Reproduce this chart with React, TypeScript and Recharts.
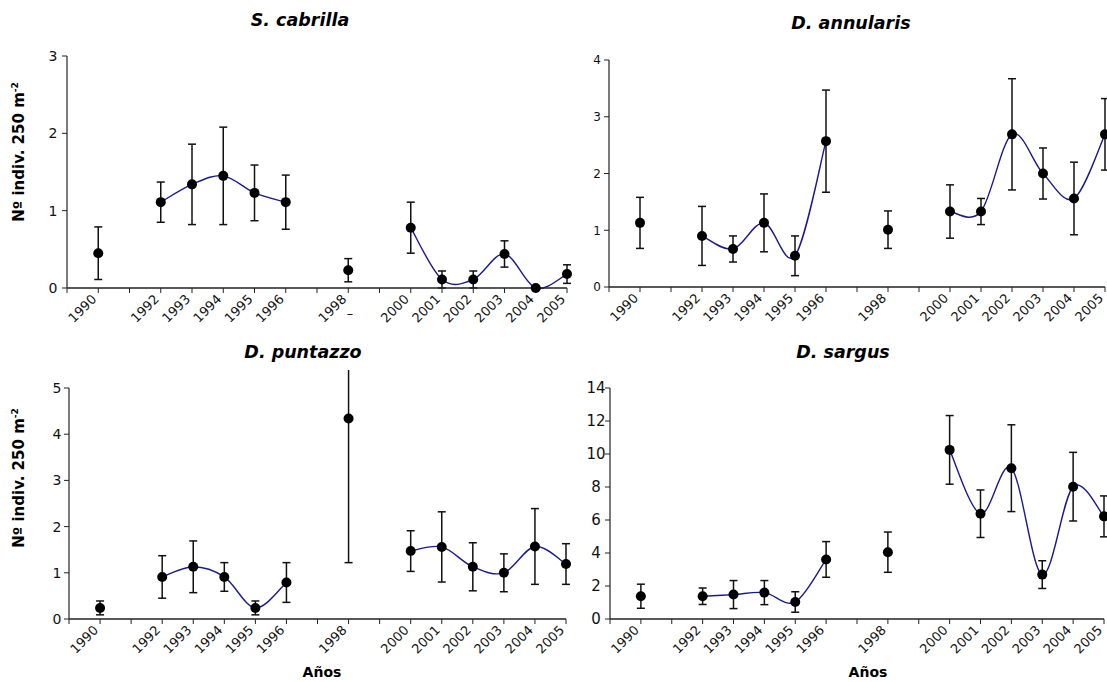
import React from 'react';
import { ComposedChart, Line, Scatter, XAxis, YAxis, ErrorBar } from 'recharts';

// años de muestreo (1991, 1997 y 1999 sin datos)
const YEARS = [1990, 1991, 1992, 1993, 1994, 1995, 1996, 1997, 1998, 1999, 2000, 2001, 2002, 2003, 2004, 2005];
const YEAR_TICKS = [1989, 1990, 1991, 1992, 1993, 1994, 1995, 1996, 1997, 1998, 1999, 2000, 2001, 2002, 2003, 2004, 2005];
const LABELED_YEARS = [1990, 1992, 1993, 1994, 1995, 1996, 1998, 2000, 2001, 2002, 2003, 2004, 2005];

const CABRILLA_MEAN = [0.45, null, 1.11, 1.34, 1.45, 1.23, 1.11, null, 0.23, null, 0.78, 0.11, 0.11, 0.44, 0.0, 0.18];
const CABRILLA_ERR = [0.34, null, 0.26, 0.52, 0.63, 0.36, 0.35, null, 0.15, null, 0.33, 0.11, 0.11, 0.17, 0, 0.12];

const ANNULARIS_MEAN = [1.13, null, 0.9, 0.67, 1.13, 0.55, 2.57, null, 1.01, null, 1.33, 1.33, 2.69, 2.0, 1.56, 2.69];
const ANNULARIS_ERR = [0.45, null, 0.52, 0.23, 0.51, 0.35, 0.9, null, 0.33, null, 0.47, 0.23, 0.98, 0.45, 0.64, 0.63];

const PUNTAZZO_MEAN = [0.24, null, 0.91, 1.13, 0.91, 0.24, 0.79, null, 4.34, null, 1.47, 1.56, 1.13, 1.0, 1.57, 1.19];
const PUNTAZZO_ERR = [0.15, null, 0.46, 0.56, 0.31, 0.15, 0.43, null, 3.12, null, 0.44, 0.76, 0.52, 0.41, 0.82, 0.44];

const SARGUS_MEAN = [1.38, null, 1.38, 1.48, 1.6, 1.03, 3.61, null, 4.05, null, 10.25, 6.38, 9.14, 2.69, 8.02, 6.22];
const SARGUS_ERR = [0.73, null, 0.5, 0.85, 0.73, 0.62, 1.08, null, 1.22, null, 2.08, 1.44, 2.63, 0.84, 2.08, 1.24];

const FONT = '"DejaVu Sans", Verdana, sans-serif';
const LINE_COLOR = '#1a1a8e';
const AXIS_COLOR = '#222';

// curva suavizada tipo Excel (Catmull-Rom en Bezier)
const excelSmooth: any = (context: any) => {
  let pts: number[][] = [];
  return {
    areaStart() {},
    areaEnd() {},
    lineStart() {
      pts = [];
    },
    point(x: number, y: number) {
      pts.push([+x, +y]);
    },
    lineEnd() {
      if (!pts.length) return;
      context.moveTo(pts[0][0], pts[0][1]);
      for (let i = 0; i < pts.length - 1; i++) {
        const p0 = pts[i - 1] || pts[i];
        const p1 = pts[i];
        const p2 = pts[i + 1];
        const p3 = pts[i + 2] || p2;
        context.bezierCurveTo(
          p1[0] + (p2[0] - p0[0]) / 6,
          p1[1] + (p2[1] - p0[1]) / 6,
          p2[0] - (p3[0] - p1[0]) / 6,
          p2[1] - (p3[1] - p1[1]) / 6,
          p2[0],
          p2[1]
        );
      }
    },
  };
};

const YearTick = (props: any) => {
  const { x, y, payload } = props;
  if (!LABELED_YEARS.includes(payload.value)) return <g />;
  const ax = x - 1;
  const ay = y + 5;
  return (
    <text
      x={ax}
      y={ay}
      transform={`rotate(-45 ${ax} ${ay})`}
      textAnchor="end"
      fontSize={13}
      fontFamily={FONT}
      fill="#111"
    >
      {payload.value}
    </text>
  );
};

const ValueTick = (props: any) => {
  const { x, y, payload, shift, fs } = props;
  return (
    <text x={x + shift} y={y} dy="0.36em" textAnchor="middle" fontSize={fs} fontFamily={FONT} fill="#111">
      {payload.value}
    </text>
  );
};

const Dot = (props: any) => <circle cx={props.cx} cy={props.cy} r={5} fill="#000" />;

type Box = { left: number; top: number; width: number; height: number; mt: number; mr: number; yw: number; xh: number };

const Panel = ({ mean, err, yMax, yTicks, box, yFont, yShift, clip }: {
  mean: (number | null)[];
  err: (number | null)[];
  yMax: number;
  yTicks: number[];
  box: Box;
  yFont: number;
  yShift: number;
  clip?: boolean;
}) => {
  const rows = YEARS.map((year, i) => ({ year, v: mean[i], err: err[i] }));
  const points = rows.filter(r => r.v !== null);
  return (
    <div style={{ position: 'absolute', left: box.left, top: box.top }}>
      <ComposedChart
        width={box.width}
        height={box.height}
        data={rows}
        margin={{ top: box.mt, right: box.mr, bottom: 0, left: 0 }}
      >
        <XAxis
          type="number"
          dataKey="year"
          domain={[1989, 2005]}
          ticks={YEAR_TICKS}
          interval={0}
          height={box.xh}
          tick={<YearTick />}
          tickSize={5}
          tickLine={{ stroke: AXIS_COLOR }}
          axisLine={{ stroke: AXIS_COLOR, strokeWidth: 1.6 }}
        />
        <YAxis
          type="number"
          dataKey="v"
          domain={[0, yMax]}
          ticks={yTicks}
          interval={0}
          width={box.yw}
          tickSize={5}
          tickMargin={0}
          tick={<ValueTick shift={yShift} fs={yFont} />}
          tickLine={{ stroke: AXIS_COLOR }}
          axisLine={{ stroke: AXIS_COLOR, strokeWidth: 1.2 }}
          allowDataOverflow={!!clip}
        />
        <Line
          dataKey="v"
          type={excelSmooth}
          stroke={LINE_COLOR}
          strokeWidth={1.4}
          dot={false}
          activeDot={false}
          connectNulls={false}
          isAnimationActive={false}
        />
        <Scatter data={points} dataKey="v" shape={<Dot />} isAnimationActive={false}>
          <ErrorBar dataKey="err" direction="y" width={4} stroke="#111" strokeWidth={1.5} />
        </Scatter>
      </ComposedChart>
    </div>
  );
};

const Title = ({ text, cx, cy }: { text: string; cx: number; cy: number }) => (
  <div
    style={{
      position: 'absolute',
      left: cx,
      top: cy,
      transform: 'translate(-50%, -50%)',
      fontFamily: FONT,
      fontWeight: 'bold',
      fontStyle: 'italic',
      fontSize: 17.5,
      whiteSpace: 'nowrap',
      color: '#000',
    }}
  >
    {text}
  </div>
);

const YLabel = ({ cx, cy }: { cx: number; cy: number }) => (
  <div
    style={{
      position: 'absolute',
      left: cx,
      top: cy,
      transform: 'translate(-50%, -50%) rotate(-90deg)',
      fontFamily: FONT,
      fontWeight: 'bold',
      fontSize: 15,
      whiteSpace: 'nowrap',
      color: '#000',
    }}
  >
    Nº indiv. 250 m<sup style={{ fontSize: '0.6em' }}>-2</sup>
  </div>
);

const XLabel = ({ cx, cy }: { cx: number; cy: number }) => (
  <div
    style={{
      position: 'absolute',
      left: cx,
      top: cy,
      transform: 'translate(-50%, -50%)',
      fontFamily: FONT,
      fontWeight: 'bold',
      fontSize: 14,
      whiteSpace: 'nowrap',
      color: '#000',
    }}
  >
    Años
  </div>
);

export default function App() {
  return (
    <div style={{ position: 'absolute', left: 0, top: 0, width: 1107, height: 682, background: '#fff', overflow: 'hidden' }}>
      <Title text="S. cabrilla" cx={300} cy={20} />
      <Title text="D. annularis" cx={851} cy={23} />
      <Title text="D. puntazzo" cx={303} cy={352} />
      <Title text="D. sargus" cx={843} cy={352} />

      <YLabel cx={19} cy={152} />
      <YLabel cx={19} cy={478} />
      <XLabel cx={322} cy={672} />
      <XLabel cx={868} cy={672} />

      <Panel
        mean={CABRILLA_MEAN}
        err={CABRILLA_ERR}
        yMax={3}
        yTicks={[0, 1, 2, 3]}
        yFont={14}
        yShift={-9}
        box={{ left: 0, top: 40, width: 580, height: 300, mt: 16, mr: 13, yw: 67, xh: 52 }}
      />
      <Panel
        mean={ANNULARIS_MEAN}
        err={ANNULARIS_ERR}
        yMax={4}
        yTicks={[0, 1, 2, 3, 4]}
        yFont={12}
        yShift={-7}
        box={{ left: 570, top: 40, width: 537, height: 300, mt: 20, mr: 2, yw: 39, xh: 53 }}
      />
      <Panel
        mean={PUNTAZZO_MEAN}
        err={PUNTAZZO_ERR}
        yMax={5}
        yTicks={[0, 1, 2, 3, 4, 5]}
        yFont={14}
        yShift={-7}
        clip
        box={{ left: 0, top: 370, width: 580, height: 300, mt: 18, mr: 14, yw: 69, xh: 51 }}
      />
      <Panel
        mean={SARGUS_MEAN}
        err={SARGUS_ERR}
        yMax={14}
        yTicks={[0, 2, 4, 6, 8, 10, 12, 14]}
        yFont={15}
        yShift={-9}
        box={{ left: 570, top: 370, width: 537, height: 300, mt: 18, mr: 3, yw: 40, xh: 51 }}
      />

      <div
        style={{ position: 'absolute', left: 350, top: 313, transform: 'translate(-50%, -50%)', fontFamily: FONT, fontSize: 13 }}
      >
        –
      </div>
    </div>
  );
}
